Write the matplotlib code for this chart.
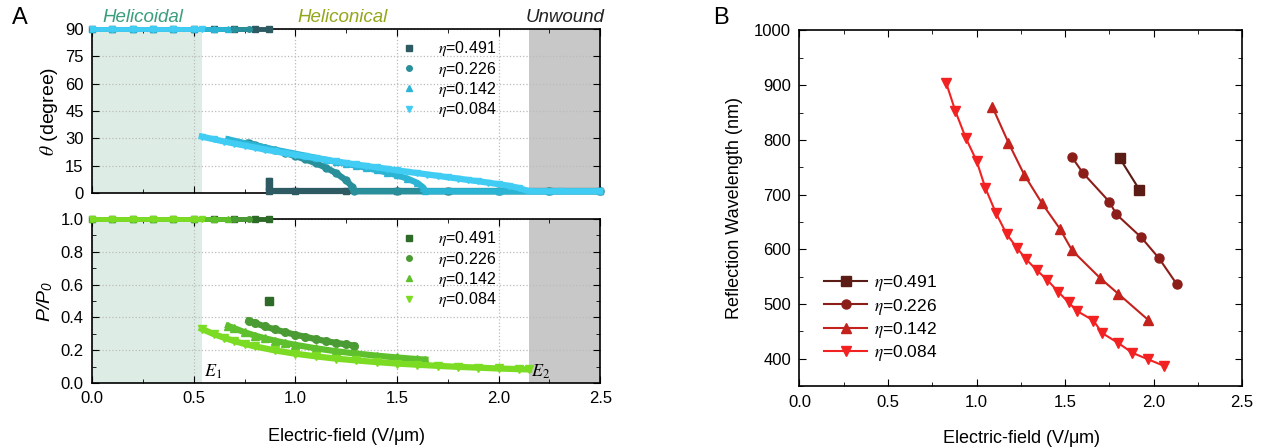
"""Director tilt, pitch and reflection wavelength vs applied field."""
import numpy as np
import matplotlib
matplotlib.use('Agg')
from matplotlib import pyplot as plt
from matplotlib.ticker import MultipleLocator, FormatStrFormatter

plt.rcParams['font.family'] = ['Liberation Sans', 'DejaVu Sans']
plt.rcParams['mathtext.fontset'] = 'stix'

#
# Data
#
labels = [r'$\eta$=0.491', r'$\eta$=0.226', r'$\eta$=0.142', r'$\eta$=0.084']
markers = ['s', 'o', '^', 'v']

## Panel A, cone angle theta (degree): helicoidal plateau, then cone + unwound
E_th_491 = [0.0, 0.1, 0.2, 0.3, 0.4, 0.5, 0.6, 0.7, 0.8, 0.87]
th_491 = [90, 90, 90, 90, 90, 90, 90, 90, 90, 90]
E_th_491_cone = [0.87, 0.87, 0.87, 1.0, 1.25, 1.5, 1.75, 2.0, 2.25, 2.5]
th_491_cone = [6.5, 3.5, 1, 1, 1, 1, 1, 1, 1, 1]

E_th_226 = [0.0, 0.1, 0.2, 0.3, 0.4, 0.5, 0.6, 0.7, 0.77]
th_226 = [90, 90, 90, 90, 90, 90, 90, 90, 90]
E_th_226_cone = [0.77, 0.8, 0.85, 0.9, 0.95, 1.0, 1.05, 1.1, 1.15, 1.2, 1.25, 1.28, 1.29,
                 1.5, 1.75, 2.0, 2.25, 2.5]
th_226_cone = [27.5, 26.5, 25.0, 23.5, 22.0, 20.3, 18.5, 16.4, 14.0, 11.0, 7.0, 3.5, 1,
               1, 1, 1, 1, 1]

E_th_142 = [0.0, 0.1, 0.2, 0.3, 0.4, 0.5, 0.6, 0.67]
th_142 = [90, 90, 90, 90, 90, 90, 90, 90]
E_th_142_cone = [0.67, 0.7, 0.75, 0.8, 0.85, 0.9, 0.95, 1.0, 1.05, 1.1, 1.15, 1.2, 1.25,
                 1.3, 1.35, 1.4, 1.45, 1.5, 1.55, 1.6, 1.63, 1.64, 2.0, 2.25, 2.5]
th_142_cone = [29.5, 28.7, 27.4, 26.2, 25.0, 23.8, 22.7, 21.6, 20.5, 19.4, 18.3, 17.2, 16.1,
               15.0, 13.8, 12.6, 11.3, 9.8, 8.0, 5.6, 3.0, 1, 1, 1, 1]

E_th_084 = [0.0, 0.1, 0.2, 0.3, 0.4, 0.5, 0.54]
th_084 = [90, 90, 90, 90, 90, 90, 90]
E_th_084_cone = [0.54, 0.6, 0.65, 0.7, 0.75, 0.8, 0.85, 0.9, 0.95, 1.0, 1.05, 1.1, 1.15,
                 1.2, 1.25, 1.3, 1.35, 1.4, 1.45, 1.5, 1.55, 1.6, 1.65, 1.7, 1.75, 1.8,
                 1.85, 1.9, 1.95, 2.0, 2.05, 2.1, 2.15, 2.3, 2.5]
th_084_cone = [31.0, 29.5, 28.3, 27.2, 26.1, 25.0, 23.9, 22.9, 21.9, 21.0, 20.1, 19.2, 18.3,
               17.4, 16.5, 15.7, 14.9, 14.1, 13.3, 12.5, 11.7, 11.0, 10.2, 9.5, 8.7, 8.0,
               7.2, 6.5, 5.7, 4.9, 4.0, 2.8, 1, 1, 1]

## Panel A, normalised pitch P/P0
E_p_491 = [0.0, 0.1, 0.2, 0.3, 0.4, 0.5, 0.6, 0.7, 0.8, 0.87]
p_491 = [1, 1, 1, 1, 1, 1, 1, 1, 1, 1]
E_p_491_cone = [0.87]
p_491_cone = [0.5]
E_p_226 = [0.0, 0.1, 0.2, 0.3, 0.4, 0.5, 0.6, 0.7, 0.77]
p_226 = [1, 1, 1, 1, 1, 1, 1, 1, 1]
E_p_226_cone = [0.77, 0.8, 0.85, 0.9, 0.95, 1.0, 1.05, 1.1, 1.15, 1.2, 1.25, 1.29]
p_226_cone = [0.38, 0.367, 0.345, 0.327, 0.31, 0.295, 0.282, 0.268, 0.256, 0.245, 0.236, 0.228]
E_p_142 = [0.0, 0.1, 0.2, 0.3, 0.4, 0.5, 0.6, 0.67]
p_142 = [1, 1, 1, 1, 1, 1, 1, 1]
E_p_142_cone = [0.67, 0.7, 0.75, 0.8, 0.85, 0.9, 0.95, 1.0, 1.1, 1.2, 1.3, 1.4, 1.5,
                1.6, 1.64]
p_142_cone = [0.348, 0.334, 0.31, 0.29, 0.273, 0.258, 0.245, 0.233, 0.212, 0.194, 0.18,
              0.167, 0.156, 0.146, 0.143]
E_p_084 = [0.0, 0.1, 0.2, 0.3, 0.4, 0.5, 0.54]
p_084 = [1, 1, 1, 1, 1, 1, 1]
E_p_084_cone = [0.54, 0.6, 0.65, 0.7, 0.75, 0.8, 0.9, 1.0, 1.1, 1.2, 1.3, 1.4, 1.5, 1.6,
                1.7, 1.8, 1.9, 2.0, 2.1, 2.15]
p_084_cone = [0.33, 0.298, 0.276, 0.256, 0.239, 0.224, 0.199, 0.179, 0.163, 0.149, 0.138,
              0.128, 0.119, 0.112, 0.105, 0.099, 0.094, 0.089, 0.085, 0.083]

## Panel B, reflection wavelength (nm)
E_b_491 = [1.81, 1.92]
wl_491 = [766, 709]
E_b_226 = [1.54, 1.60, 1.75, 1.79, 1.93, 2.03, 2.13]
wl_226 = [768, 740, 687, 664, 622, 584, 537]
E_b_142 = [1.09, 1.18, 1.27, 1.37, 1.47, 1.54, 1.70, 1.80, 1.97]
wl_142 = [860, 795, 736, 684, 638, 598, 547, 519, 471]
E_b_084 = [0.83, 0.88, 0.94, 1.00, 1.05, 1.11, 1.17, 1.23, 1.28, 1.34, 1.40, 1.46,
           1.52, 1.57, 1.66, 1.71, 1.80, 1.88, 1.97, 2.06]
wl_084 = [903, 853, 803, 762, 712, 666, 628, 602, 582, 562, 544, 523,
          503, 487, 470, 447, 429, 411, 399, 387]

E1 = 0.54
E2 = 2.15

col_th = ['#2D5A63', '#29909B', '#2BB4D4', '#40CCF3']
col_p = ['#2E6A28', '#4A9B33', '#5DC02C', '#7CDC24']
col_b = ['#5B1C15', '#8C1E1A', '#C4221D', '#F22222']


def style_axis(ax):
    ax.tick_params(which='both', direction='in', top=True, right=True, labelsize=12)
    ax.tick_params(which='major', length=5, pad=6)
    ax.tick_params(which='minor', length=3)
    for sp in ax.spines.values():
        sp.set_linewidth(1.2)


def shade(ax):
    ax.axvspan(0, E1, color='#DDEDE6', lw=0, zorder=0)
    ax.axvspan(E2, 2.5, color='#C8C8C8', lw=0, zorder=0)


fig = plt.figure(figsize=(12.61, 4.47), dpi=100)

#
# Panel A top: theta
#
ax1 = fig.add_axes([0.073, 0.568, 0.403, 0.367])
shade(ax1)
hi = [(E_th_491, th_491), (E_th_226, th_226), (E_th_142, th_142), (E_th_084, th_084)]
lo = [(E_th_491_cone, th_491_cone), (E_th_226_cone, th_226_cone),
      (E_th_142_cone, th_142_cone), (E_th_084_cone, th_084_cone)]
for (xp, yp), (xc, yc), c, m, lab in zip(hi, lo, col_th, markers, labels):
    ax1.plot(xp, yp, '-', color=c, lw=3.5, zorder=3, clip_on=False)
    ax1.plot(xp, yp, m, color=c, ms=4, zorder=3, clip_on=False, label=lab)
    ax1.plot(xc, yc, '-', color=c, lw=4.5, zorder=3, clip_on=False)
    ax1.plot(xc, yc, m, color=c, ms=5, zorder=3, clip_on=False)
ax1.set_xlim(0, 2.5)
ax1.set_ylim(0, 90)
ax1.xaxis.set_major_locator(MultipleLocator(0.5))
ax1.xaxis.set_minor_locator(MultipleLocator(0.25))
ax1.yaxis.set_major_locator(MultipleLocator(15))
ax1.set_xticklabels([])
ax1.grid(True, which='major', ls=':', color='#BBBBBB', lw=0.9)
ax1.set_ylabel(r'$\theta$ (degree)', fontsize=14, labelpad=4)
style_axis(ax1)
ax1.legend(loc='upper left', bbox_to_anchor=(0.58, 1.025), frameon=False, fontsize=11.5,
           handlelength=1.0, handletextpad=1.3, labelspacing=0.08)
ax1.text(0.25, 1.02, 'Helicoidal', transform=ax1.get_xaxis_transform(), ha='center',
         va='bottom', fontsize=13.5, style='italic', color='#3A9E7C')
ax1.text(1.23, 1.02, 'Heliconical', transform=ax1.get_xaxis_transform(), ha='center',
         va='bottom', fontsize=13.5, style='italic', color='#94A71B')
ax1.text(2.52, 1.02, 'Unwound', transform=ax1.get_xaxis_transform(), ha='right',
         va='bottom', fontsize=13.5, style='italic', color='#222222')

#
# Panel A bottom: pitch
#
ax2 = fig.add_axes([0.073, 0.143, 0.403, 0.367])
shade(ax2)
plateaus = [(E_p_491, p_491), (E_p_226, p_226), (E_p_142, p_142), (E_p_084, p_084)]
cones = [(E_p_491_cone, p_491_cone), (E_p_226_cone, p_226_cone),
         (E_p_142_cone, p_142_cone), (E_p_084_cone, p_084_cone)]
for (xp, yp), (xc, yc), c, m, lab in zip(plateaus, cones, col_p, markers, labels):
    ax2.plot(xp, yp, '-', color=c, lw=3.5, zorder=3, clip_on=False)
    ax2.plot(xp, yp, m, color=c, ms=4, zorder=3, clip_on=False, label=lab)
    ax2.plot(xc, yc, '-', color=c, lw=4.5, zorder=3)
    ax2.plot(xc, yc, m, color=c, ms=5.5, zorder=3)
ax2.set_xlim(0, 2.5)
ax2.set_ylim(0, 1.0)
ax2.xaxis.set_major_locator(MultipleLocator(0.5))
ax2.xaxis.set_minor_locator(MultipleLocator(0.25))
ax2.yaxis.set_major_locator(MultipleLocator(0.2))
ax2.yaxis.set_minor_locator(MultipleLocator(0.1))
ax2.xaxis.set_major_formatter(FormatStrFormatter('%.1f'))
ax2.yaxis.set_major_formatter(FormatStrFormatter('%.1f'))
ax2.grid(True, which='major', ls=':', color='#BBBBBB', lw=0.9)
ax2.set_ylabel(r'P/P$_\mathregular{0}$', fontsize=14, style='italic', labelpad=4)
ax2.set_xlabel(r'Electric-field (V/$\mathregular{\mu}$m)', fontsize=13, labelpad=14)
style_axis(ax2)
ax2.legend(loc='upper left', bbox_to_anchor=(0.58, 1.025), frameon=False, fontsize=11.5,
           handlelength=1.0, handletextpad=1.3, labelspacing=0.08)
ax2.text(E1 + 0.01, 0.015, r'$E_1$', fontsize=13, ha='left', va='bottom')
ax2.text(E2 + 0.01, 0.015, r'$E_2$', fontsize=13, ha='left', va='bottom')

#
# Panel B: reflection wavelength
#
ax3 = fig.add_axes([0.634, 0.136, 0.351, 0.796])
for xs, ys, c, m, lab in zip([E_b_491, E_b_226, E_b_142, E_b_084],
                             [wl_491, wl_226, wl_142, wl_084],
                             col_b, markers, labels):
    ax3.plot(xs, ys, '-', marker=m, color=c, ms=6.5, lw=1.5, label=lab)
ax3.set_xlim(0, 2.5)
ax3.set_ylim(350, 1000)
ax3.xaxis.set_major_locator(MultipleLocator(0.5))
ax3.xaxis.set_minor_locator(MultipleLocator(0.25))
ax3.yaxis.set_major_locator(MultipleLocator(100))
ax3.yaxis.set_minor_locator(MultipleLocator(50))
ax3.xaxis.set_major_formatter(FormatStrFormatter('%.1f'))
ax3.set_xlabel(r'Electric-field (V/$\mathregular{\mu}$m)', fontsize=13, labelpad=13)
ax3.set_ylabel('Reflection Wavelength (nm)', fontsize=13, labelpad=8)
style_axis(ax3)
ax3.legend(loc='lower left', bbox_to_anchor=(0.02, 0.02), frameon=False, fontsize=12.5,
           handlelength=2.5, handletextpad=0.4, labelspacing=0.2)

fig.text(12 / 1261, 1 - 18 / 447, 'A', fontsize=17, va='center', ha='left')
fig.text(713 / 1261, 1 - 18 / 447, 'B', fontsize=17, va='center', ha='left')

plt.savefig('out.png', dpi=100)
